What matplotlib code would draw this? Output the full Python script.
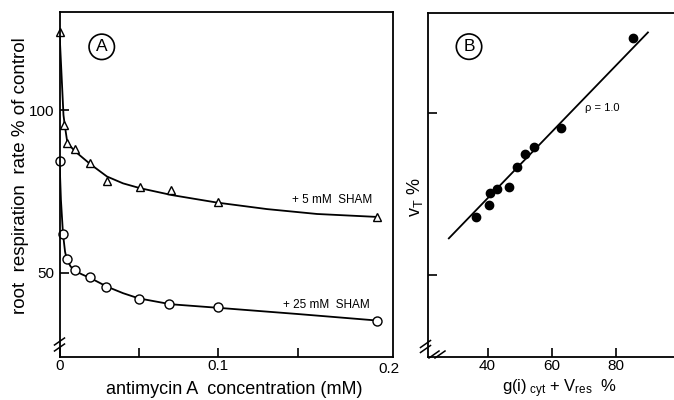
import matplotlib.pyplot as plt
from matplotlib.lines import Line2D

plt.rcParams["font.family"] = ["Liberation Sans", "DejaVu Sans"]
plt.rcParams["mathtext.fontset"] = "custom"
plt.rcParams["mathtext.rm"] = "Liberation Sans"
plt.rcParams["mathtext.it"] = "Liberation Sans:italic"

# Panel A: respiration vs antimycin A concentration
conc_sham5 = [0.0, 0.0027, 0.0049, 0.0099, 0.0193, 0.0298, 0.0504, 0.070, 0.0998, 0.1997]
resp_sham5 = [124.0, 95.4, 90.0, 88.0, 83.8, 78.2, 76.3, 75.5, 71.9, 67.3]
conc_sham25 = [0.0, 0.002, 0.0049, 0.010, 0.019, 0.029, 0.050, 0.069, 0.100, 0.200]
resp_sham25 = [84.5, 61.9, 54.2, 50.9, 48.9, 45.8, 41.9, 40.5, 39.5, 35.4]

# hand-fitted curves through each series
fit5_x = [0.0, 0.0025, 0.0033, 0.0047, 0.0066, 0.0099, 0.0140, 0.0194, 0.0299, 0.0400,
          0.0509, 0.0708, 0.0992, 0.1307, 0.1622, 0.1999]
fit5_y = [123.9, 98.5, 95.4, 90.8, 89.0, 87.3, 85.6, 83.4, 79.6, 77.5,
          76.0, 73.9, 71.6, 69.6, 68.1, 67.2]
fit25_x = [0.0, 0.0009, 0.0022, 0.0035, 0.0047, 0.0070, 0.0096, 0.0140, 0.0200, 0.0299,
           0.0400, 0.0499, 0.0700, 0.1000, 0.1500, 0.2000]
fit25_y = [84.7, 72.4, 62.0, 56.5, 54.0, 52.0, 50.7, 49.6, 48.3, 45.8,
           43.8, 42.2, 40.4, 39.3, 37.4, 35.4]

# Panel B: measured total respiration vs predicted
pred_pct = [36.4, 40.4, 40.7, 42.8, 46.7, 49.2, 51.6, 54.4, 62.8, 85.2]
vt_pct = [67.8, 71.6, 75.4, 76.5, 77.1, 83.5, 87.4, 89.7, 95.5, 123.4]
line_x = [27.9, 90.0]
line_y = [61.3, 125.0]

W, H = 674, 400
fig = plt.figure(figsize=(W / 100, H / 100), dpi=100)


def fpos(left, top, right, bottom):
    return [left / W, 1 - bottom / H, (right - left) / W, (bottom - top) / H]


def slash(xc, yc, dx=5, dy=3.5):
    fig.add_artist(Line2D([(xc - dx) / W, (xc + dx) / W],
                          [1 - (yc + dy) / H, 1 - (yc - dy) / H],
                          transform=fig.transFigure, color="k", lw=1.1))


def style(ax):
    for side in ("left", "bottom", "top", "right"):
        ax.spines[side].set_linewidth(1.3)
    ax.tick_params(direction="in", length=6.5, width=1.2, labelsize=11)
    ax.tick_params(axis="x", pad=2)
    ax.tick_params(axis="y", pad=4)


# ---- panel A ----
axA = fig.add_axes(fpos(59.5, 12.3, 392.7, 356.7))
style(axA)
axA.plot(fit5_x, fit5_y, color="k", lw=1.3)
axA.plot(fit25_x, fit25_y, color="k", lw=1.3)
axA.plot(conc_sham5, resp_sham5, ls="none", marker="^", ms=6, mfc="white",
         mec="k", mew=1.0, clip_on=False)
axA.plot(conc_sham25, resp_sham25, ls="none", marker="o", ms=6.5, mfc="white",
         mec="k", mew=1.0, clip_on=False)
axA.set_xlim(0, 0.2098)
axA.set_ylim(24.3, 130.0)
axA.set_xticks([0, 0.05, 0.1, 0.15])
axA.set_xticklabels(["0", "", "0.1", ""])
axA.set_yticks([50, 100])
axA.set_yticklabels(["50", "100"])
axA.text(0.2075, -0.015, "0.2", transform=axA.get_xaxis_transform(),
         ha="center", va="top", fontsize=11)
axA.set_xlabel("antimycin A  concentration (mM)", fontsize=13)
axA.xaxis.set_label_coords(0.524, -0.07)
axA.set_ylabel("root  respiration  rate % of control", fontsize=13.5, va="center")
axA.yaxis.set_label_coords(-0.1185, 0.525)
axA.text(0.0266, 119.4, "A", fontsize=12.5, ha="center", va="center",
         bbox=dict(boxstyle="circle,pad=0.3", fc="none", ec="k", lw=1.2))
axA.text(0.1968, 72.4, "+ 5 mM  SHAM", fontsize=8.5, ha="right", va="center")
axA.text(0.1955, 40.2, "+ 25 mM  SHAM", fontsize=8.5, ha="right", va="center")
slash(59.5, 341.5)
slash(59.5, 347.5)

# ---- panel B ----
axB = fig.add_axes(fpos(428.3, 12.7, 680.0, 356.7))
style(axB)
axB.plot(line_x, line_y, color="k", lw=1.3)
axB.plot(pred_pct, vt_pct, ls="none", marker="o", ms=6, color="k")
axB.set_xlim(21.5, 100)
axB.set_ylim(24.7, 131.1)
axB.set_xticks([40, 60, 80])
axB.set_yticks([50, 100])
axB.set_yticklabels([])
axB.set_xlabel(r"g(i)$_{\rm\ cyt}$ + V$_{\rm res}$  %", fontsize=12)
axB.xaxis.set_label_coords(0.52, -0.06)
axB.set_ylabel(r"v$_{\rm T}$ %", fontsize=13, va="center")
axB.yaxis.set_label_coords(-0.052, 0.465)
axB.text(34.2, 120.6, "B", fontsize=12.5, ha="center", va="center",
         bbox=dict(boxstyle="circle,pad=0.3", fc="none", ec="k", lw=1.2))
axB.text(75.8, 101.6, "ρ = 1.0", fontsize=8, ha="center", va="center")
slash(425.5, 344)
slash(425.5, 349)
slash(434, 354.5)
slash(440, 354.5)

fig.savefig("out.png", dpi=100)
